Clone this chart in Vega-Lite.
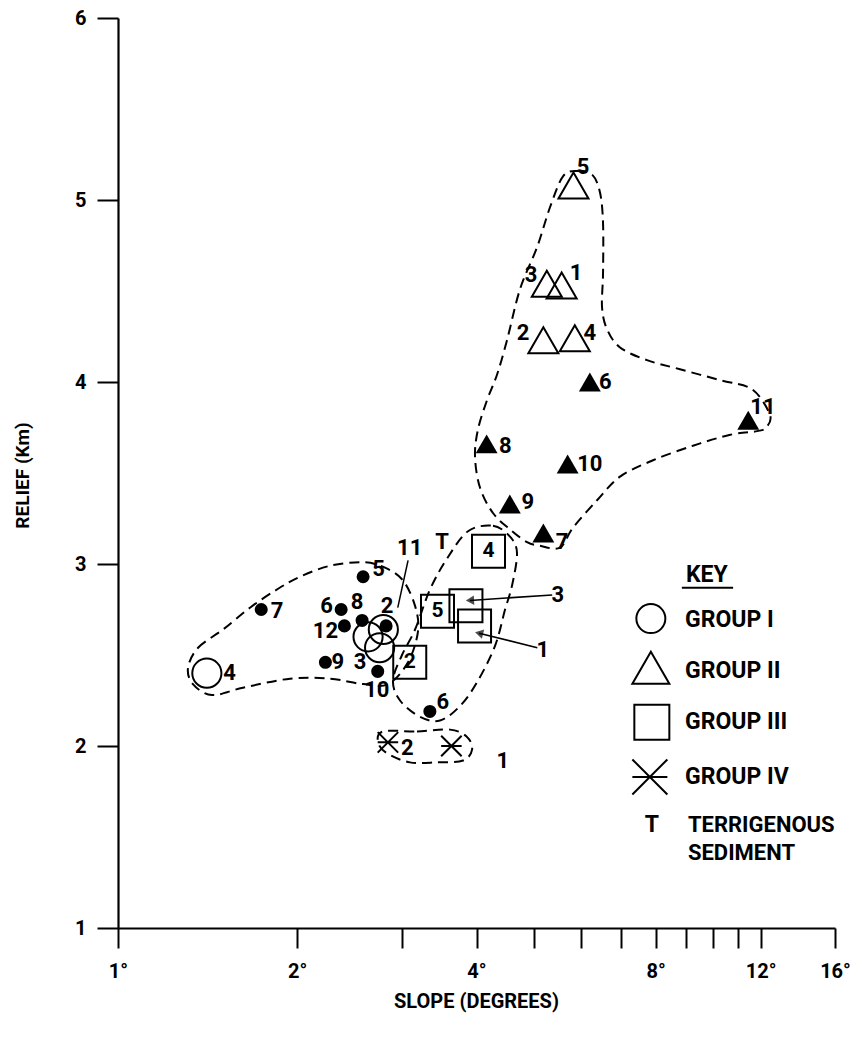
{
  "$schema": "https://vega.github.io/schema/vega-lite/v6.json",
  "autosize": {"type": "none"},
  "width": 717,
  "height": 910,
  "padding": {"left": 118, "top": 18, "right": 27, "bottom": 112},
  "background": "white",
  "config": {
    "view": {"stroke": null},
    "font": "Roboto, Liberation Sans, sans-serif",
    "text": {"font": "Roboto, Liberation Sans, sans-serif", "fontWeight": "bold", "color": "black"}
  },
  "datasets": {
    "pts": [
      {"kind": "open-circle", "label": "4", "x": 1.41, "y": 2.40},
      {"kind": "open-circle", "label": "1", "x": 2.79, "y": 2.64},
      {"kind": "open-circle", "label": "2", "x": 2.63, "y": 2.60},
      {"kind": "open-circle", "label": "3", "x": 2.75, "y": 2.54},
      {"kind": "filled-circle", "label": "7", "x": 1.74, "y": 2.75},
      {"kind": "filled-circle", "label": "5", "x": 2.58, "y": 2.93},
      {"kind": "filled-circle", "label": "6", "x": 2.37, "y": 2.75},
      {"kind": "filled-circle", "label": "8", "x": 2.57, "y": 2.69},
      {"kind": "filled-circle", "label": "12", "x": 2.40, "y": 2.66},
      {"kind": "filled-circle", "label": "2", "x": 2.82, "y": 2.66},
      {"kind": "filled-circle", "label": "9", "x": 2.23, "y": 2.46},
      {"kind": "filled-circle", "label": "10", "x": 2.73, "y": 2.41},
      {"kind": "filled-circle", "label": "6", "x": 3.34, "y": 2.19},
      {"kind": "open-triangle", "label": "5", "x": 5.82, "y": 5.08},
      {"kind": "open-triangle", "label": "3", "x": 5.25, "y": 4.54},
      {"kind": "open-triangle", "label": "1", "x": 5.56, "y": 4.53},
      {"kind": "open-triangle", "label": "2", "x": 5.18, "y": 4.23},
      {"kind": "open-triangle", "label": "4", "x": 5.85, "y": 4.24},
      {"kind": "filled-triangle", "label": "6", "x": 6.20, "y": 4.00},
      {"kind": "filled-triangle", "label": "11", "x": 11.44, "y": 3.79},
      {"kind": "filled-triangle", "label": "8", "x": 4.16, "y": 3.66},
      {"kind": "filled-triangle", "label": "10", "x": 5.69, "y": 3.55},
      {"kind": "filled-triangle", "label": "9", "x": 4.55, "y": 3.33},
      {"kind": "filled-triangle", "label": "7", "x": 5.18, "y": 3.17},
      {"kind": "square", "label": "4", "x": 4.19, "y": 3.07},
      {"kind": "square", "label": "5", "x": 3.44, "y": 2.74},
      {"kind": "square", "label": "3", "x": 3.84, "y": 2.77},
      {"kind": "square", "label": "1", "x": 3.97, "y": 2.66},
      {"kind": "square", "label": "2", "x": 3.09, "y": 2.46},
      {"kind": "cross", "label": "2", "x": 2.84, "y": 2.02},
      {"kind": "cross", "label": "1", "x": 3.63, "y": 2.00}
    ],
    "labels": [
      {"text": "5", "x": 6.04, "y": 5.18},
      {"text": "3", "x": 4.94, "y": 4.59},
      {"text": "1", "x": 5.88, "y": 4.60},
      {"text": "2", "x": 4.79, "y": 4.27},
      {"text": "4", "x": 6.20, "y": 4.27},
      {"text": "6", "x": 6.58, "y": 4.00},
      {"text": "11", "x": 12.11, "y": 3.86},
      {"text": "8", "x": 4.47, "y": 3.65},
      {"text": "10", "x": 6.20, "y": 3.55},
      {"text": "9", "x": 4.88, "y": 3.34},
      {"text": "7", "x": 5.57, "y": 3.12},
      {"text": "3", "x": 5.48, "y": 2.83},
      {"text": "1", "x": 5.17, "y": 2.53},
      {"text": "4", "x": 1.54, "y": 2.40},
      {"text": "7", "x": 1.85, "y": 2.74},
      {"text": "5", "x": 2.74, "y": 2.97},
      {"text": "6", "x": 2.24, "y": 2.77},
      {"text": "8", "x": 2.52, "y": 2.79},
      {"text": "2", "x": 2.83, "y": 2.77},
      {"text": "12", "x": 2.23, "y": 2.63},
      {"text": "9", "x": 2.34, "y": 2.46},
      {"text": "3", "x": 2.55, "y": 2.46},
      {"text": "10", "x": 2.72, "y": 2.31},
      {"text": "6", "x": 3.51, "y": 2.24},
      {"text": "11", "x": 3.09, "y": 3.09},
      {"text": "T", "x": 3.50, "y": 3.12},
      {"text": "2", "x": 3.06, "y": 1.99},
      {"text": "1", "x": 4.43, "y": 1.92}
    ],
    "leaders": [
      {"id": "sq3", "x": 5.36, "y": 2.83, "x2": 3.90, "y2": 2.80},
      {"id": "sq1", "x": 5.06, "y": 2.54, "x2": 4.04, "y2": 2.62},
      {"id": "c11", "x": 3.07, "y": 3.02, "x2": 2.95, "y2": 2.76}
    ],
    "env": [
      {"id": "I", "i": 1, "x": 1.311, "y": 2.43},
      {"id": "I", "i": 2, "x": 1.363, "y": 2.54},
      {"id": "I", "i": 3, "x": 1.501, "y": 2.64},
      {"id": "I", "i": 4, "x": 1.666, "y": 2.76},
      {"id": "I", "i": 5, "x": 1.849, "y": 2.86},
      {"id": "I", "i": 6, "x": 2.021, "y": 2.93},
      {"id": "I", "i": 7, "x": 2.270, "y": 2.99},
      {"id": "I", "i": 8, "x": 2.579, "y": 3.01},
      {"id": "I", "i": 9, "x": 2.808, "y": 2.98},
      {"id": "I", "i": 10, "x": 3.010, "y": 2.91},
      {"id": "I", "i": 11, "x": 3.154, "y": 2.77},
      {"id": "I", "i": 12, "x": 3.190, "y": 2.63},
      {"id": "I", "i": 13, "x": 3.069, "y": 2.46},
      {"id": "I", "i": 14, "x": 2.841, "y": 2.34},
      {"id": "I", "i": 15, "x": 2.579, "y": 2.34},
      {"id": "I", "i": 16, "x": 2.270, "y": 2.37},
      {"id": "I", "i": 17, "x": 1.945, "y": 2.37},
      {"id": "I", "i": 18, "x": 1.621, "y": 2.32},
      {"id": "I", "i": 19, "x": 1.438, "y": 2.28},
      {"id": "I", "i": 20, "x": 1.336, "y": 2.34},
      {"id": "III", "i": 1, "x": 3.871, "y": 3.18},
      {"id": "III", "i": 2, "x": 4.263, "y": 3.21},
      {"id": "III", "i": 3, "x": 4.554, "y": 3.15},
      {"id": "III", "i": 4, "x": 4.678, "y": 3.06},
      {"id": "III", "i": 5, "x": 4.588, "y": 2.88},
      {"id": "III", "i": 6, "x": 4.467, "y": 2.75},
      {"id": "III", "i": 7, "x": 4.297, "y": 2.55},
      {"id": "III", "i": 8, "x": 4.008, "y": 2.35},
      {"id": "III", "i": 9, "x": 3.753, "y": 2.22},
      {"id": "III", "i": 10, "x": 3.474, "y": 2.14},
      {"id": "III", "i": 11, "x": 3.215, "y": 2.16},
      {"id": "III", "i": 12, "x": 2.976, "y": 2.25},
      {"id": "III", "i": 13, "x": 2.896, "y": 2.36},
      {"id": "III", "i": 14, "x": 2.999, "y": 2.50},
      {"id": "III", "i": 15, "x": 3.154, "y": 2.64},
      {"id": "III", "i": 16, "x": 3.342, "y": 2.86},
      {"id": "III", "i": 17, "x": 3.570, "y": 3.03},
      {"id": "IV", "i": 1, "x": 2.787, "y": 2.08},
      {"id": "IV", "i": 2, "x": 3.178, "y": 2.08},
      {"id": "IV", "i": 3, "x": 3.611, "y": 2.09},
      {"id": "IV", "i": 4, "x": 3.856, "y": 2.05},
      {"id": "IV", "i": 5, "x": 3.932, "y": 1.98},
      {"id": "IV", "i": 6, "x": 3.797, "y": 1.92},
      {"id": "IV", "i": 7, "x": 3.434, "y": 1.91},
      {"id": "IV", "i": 8, "x": 3.093, "y": 1.91},
      {"id": "IV", "i": 9, "x": 2.830, "y": 1.96},
      {"id": "IV", "i": 10, "x": 2.734, "y": 2.02},
      {"id": "II", "i": 1, "x": 5.589, "y": 5.13},
      {"id": "II", "i": 2, "x": 5.900, "y": 5.16},
      {"id": "II", "i": 3, "x": 6.254, "y": 5.14},
      {"id": "II", "i": 4, "x": 6.450, "y": 5.04},
      {"id": "II", "i": 5, "x": 6.525, "y": 4.87},
      {"id": "II", "i": 6, "x": 6.525, "y": 4.60},
      {"id": "II", "i": 7, "x": 6.500, "y": 4.41},
      {"id": "II", "i": 8, "x": 6.627, "y": 4.29},
      {"id": "II", "i": 9, "x": 6.968, "y": 4.19},
      {"id": "II", "i": 10, "x": 7.734, "y": 4.12},
      {"id": "II", "i": 11, "x": 8.786, "y": 4.07},
      {"id": "II", "i": 12, "x": 10.26, "y": 4.01},
      {"id": "II", "i": 13, "x": 11.61, "y": 3.96},
      {"id": "II", "i": 14, "x": 12.44, "y": 3.82},
      {"id": "II", "i": 15, "x": 12.26, "y": 3.75},
      {"id": "II", "i": 16, "x": 11.84, "y": 3.73},
      {"id": "II", "i": 17, "x": 10.67, "y": 3.71},
      {"id": "II", "i": 18, "x": 9.239, "y": 3.65},
      {"id": "II", "i": 19, "x": 7.916, "y": 3.57},
      {"id": "II", "i": 20, "x": 6.968, "y": 3.48},
      {"id": "II", "i": 21, "x": 6.375, "y": 3.35},
      {"id": "II", "i": 22, "x": 5.810, "y": 3.20},
      {"id": "II", "i": 23, "x": 5.524, "y": 3.09},
      {"id": "II", "i": 24, "x": 5.114, "y": 3.10},
      {"id": "II", "i": 25, "x": 4.863, "y": 3.12},
      {"id": "II", "i": 26, "x": 4.554, "y": 3.19},
      {"id": "II", "i": 27, "x": 4.263, "y": 3.28},
      {"id": "II", "i": 28, "x": 4.054, "y": 3.42},
      {"id": "II", "i": 29, "x": 3.977, "y": 3.59},
      {"id": "II", "i": 30, "x": 4.023, "y": 3.74},
      {"id": "II", "i": 31, "x": 4.166, "y": 3.90},
      {"id": "II", "i": 32, "x": 4.330, "y": 4.04},
      {"id": "II", "i": 33, "x": 4.501, "y": 4.23},
      {"id": "II", "i": 34, "x": 4.733, "y": 4.51},
      {"id": "II", "i": 35, "x": 5.055, "y": 4.74},
      {"id": "II", "i": 36, "x": 5.315, "y": 4.96}
    ],
    "keyGlyphs": [
      {"kind": "open-circle", "x": 7.85, "y": 2.70},
      {"kind": "open-triangle", "x": 7.85, "y": 2.43},
      {"kind": "square", "x": 7.88, "y": 2.13},
      {"kind": "cross", "x": 7.82, "y": 1.83}
    ],
    "keyText": [
      {"text": "GROUP I", "x": 8.96, "y": 2.69},
      {"text": "GROUP II", "x": 8.96, "y": 2.41},
      {"text": "GROUP III", "x": 8.96, "y": 2.13},
      {"text": "GROUP IV", "x": 8.96, "y": 1.83}
    ],
    "keyText2": [
      {"text": "TERRIGENOUS", "x": 9.06, "y": 1.565},
      {"text": "SEDIMENT", "x": 9.06, "y": 1.41}
    ],
    "keyTitle": [
      {"text": "KEY", "x": 9.75, "y": 2.94, "x1": 8.85, "x2": 10.79, "yu": 2.87},
      {"text": "T", "x": 7.88, "y": 1.565, "x1": 7.88, "x2": 7.88, "yu": 1.565}
    ]
  },
  "encoding": {
    "x": {
      "field": "x", "type": "quantitative",
      "scale": {"type": "log", "domain": [1, 16], "nice": false},
      "axis": {
        "title": "SLOPE (DEGREES)",
        "values": [1, 2, 3, 4, 5, 6, 7, 8, 9, 10, 11, 12, 16],
        "labelExpr": "indexof([1,2,4,8,12,16], datum.value) >= 0 ? datum.value + '°' : ''",
        "grid": false, "domainColor": "black", "domainWidth": 2.2,
        "tickColor": "black", "tickWidth": 2, "tickSize": 20,
        "labelFont": "Roboto, Liberation Sans, sans-serif",
        "labelFontWeight": "bold", "labelFontSize": 20, "labelColor": "black",
        "labelPadding": 13, "labelFlush": false, "labelOverlap": false,
        "titleFont": "Roboto, Liberation Sans, sans-serif",
        "titleFontWeight": "bold", "titleFontSize": 20, "titleColor": "black",
        "titleX": 358, "titleY": 73, "titleBaseline": "middle", "titleAlign": "center"
      }
    },
    "y": {
      "field": "y", "type": "quantitative",
      "scale": {"domain": [1, 6], "nice": false, "zero": false},
      "axis": {
        "title": "RELIEF (Km)",
        "values": [1, 2, 3, 4, 5, 6],
        "grid": false, "domainColor": "black", "domainWidth": 2.2,
        "tickColor": "black", "tickWidth": 2, "tickSize": 21,
        "labelFont": "Roboto, Liberation Sans, sans-serif",
        "labelFontWeight": "bold", "labelFontSize": 20, "labelColor": "black",
        "labelPadding": 11, "labelFlush": false, "labelOverlap": false,
        "titleFont": "Roboto, Liberation Sans, sans-serif",
        "titleFontWeight": "bold", "titleFontSize": 19, "titleColor": "black",
        "titleX": -96, "titleY": 457, "titleAngle": -90, "titleBaseline": "middle", "titleAlign": "center"
      }
    }
  },
  "layer": [
    {
      "data": {"name": "env"},
      "mark": {"type": "line", "interpolate": "cardinal-closed", "color": "black", "strokeWidth": 2, "strokeDash": [10, 6]},
      "encoding": {"detail": {"field": "id"}, "order": {"field": "i", "type": "quantitative"}}
    },
    {
      "data": {"name": "leaders"},
      "mark": {"type": "rule", "color": "black", "strokeWidth": 1.5},
      "encoding": {"x2": {"field": "x2"}, "y2": {"field": "y2"}}
    },
    {
      "data": {"name": "leaders"},
      "transform": [{"filter": "datum.id == 'sq3'"}],
      "mark": {"type": "point", "shape": "triangle-left", "filled": true, "color": "black", "size": 90, "angle": 357},
      "encoding": {"x": {"field": "x2", "type": "quantitative"}, "y": {"field": "y2", "type": "quantitative"}}
    },
    {
      "data": {"name": "leaders"},
      "transform": [{"filter": "datum.id == 'sq1'"}],
      "mark": {"type": "point", "shape": "triangle-left", "filled": true, "color": "black", "size": 90, "angle": 14},
      "encoding": {"x": {"field": "x2", "type": "quantitative"}, "y": {"field": "y2", "type": "quantitative"}}
    },
    {
      "data": {"name": "pts"},
      "transform": [{"filter": "datum.kind == 'open-circle'"}],
      "mark": {"type": "point", "shape": "circle", "filled": false, "color": "black", "strokeWidth": 2, "size": 850, "opacity": 1}
    },
    {
      "data": {"name": "pts"},
      "transform": [{"filter": "datum.kind == 'filled-circle'"}],
      "mark": {"type": "point", "shape": "circle", "filled": true, "color": "black", "size": 170, "opacity": 1}
    },
    {
      "data": {"name": "pts"},
      "transform": [{"filter": "datum.kind == 'open-triangle'"}],
      "mark": {"type": "point", "shape": "triangle-up", "filled": false, "color": "black", "strokeWidth": 2, "size": 900, "opacity": 1}
    },
    {
      "data": {"name": "pts"},
      "transform": [{"filter": "datum.kind == 'filled-triangle'"}],
      "mark": {"type": "point", "shape": "triangle-up", "filled": true, "color": "black", "size": 480, "opacity": 1}
    },
    {
      "data": {"name": "pts"},
      "transform": [{"filter": "datum.kind == 'square'"}],
      "mark": {"type": "point", "shape": "square", "filled": false, "color": "black", "strokeWidth": 2, "size": 1089, "opacity": 1}
    },
    {
      "data": {"name": "pts"},
      "transform": [{"filter": "datum.kind == 'square' && datum.label != '1' && datum.label != '3'"}],
      "mark": {"type": "text", "fontSize": 21, "align": "center", "baseline": "middle"},
      "encoding": {"text": {"field": "label"}}
    },
    {
      "data": {"name": "pts"},
      "transform": [{"filter": "datum.kind == 'cross'"}],
      "mark": {"type": "point", "shape": "M-1,-1L1,1M-1,1L1,-1M-1,0L1,0", "filled": false, "color": "black", "strokeWidth": 2, "size": 420, "opacity": 1}
    },
    {
      "data": {"name": "labels"},
      "mark": {"type": "text", "fontSize": 22, "align": "center", "baseline": "middle"},
      "encoding": {"text": {"field": "text"}}
    },
    {
      "data": {"name": "keyGlyphs"},
      "transform": [{"filter": "datum.kind == 'open-circle'"}],
      "mark": {"type": "point", "shape": "circle", "filled": false, "color": "black", "strokeWidth": 2, "size": 841, "opacity": 1}
    },
    {
      "data": {"name": "keyGlyphs"},
      "transform": [{"filter": "datum.kind == 'open-triangle'"}],
      "mark": {"type": "point", "shape": "triangle-up", "filled": false, "color": "black", "strokeWidth": 2, "size": 1369, "opacity": 1}
    },
    {
      "data": {"name": "keyGlyphs"},
      "transform": [{"filter": "datum.kind == 'square'"}],
      "mark": {"type": "point", "shape": "square", "filled": false, "color": "black", "strokeWidth": 2, "size": 1225, "opacity": 1}
    },
    {
      "data": {"name": "keyGlyphs"},
      "transform": [{"filter": "datum.kind == 'cross'"}],
      "mark": {"type": "point", "shape": "M-1,-1L1,1M-1,1L1,-1M-1,0L1,0", "filled": false, "color": "black", "strokeWidth": 2, "size": 1225, "opacity": 1}
    },
    {
      "data": {"name": "keyText"},
      "mark": {"type": "text", "fontSize": 23, "align": "left", "baseline": "middle"},
      "encoding": {"text": {"field": "text"}}
    },
    {
      "data": {"name": "keyText2"},
      "mark": {"type": "text", "fontSize": 22, "align": "left", "baseline": "middle"},
      "encoding": {"text": {"field": "text"}}
    },
    {
      "data": {"name": "keyTitle"},
      "mark": {"type": "text", "fontSize": 23, "align": "center", "baseline": "middle"},
      "encoding": {"text": {"field": "text"}}
    },
    {
      "data": {"name": "keyTitle"},
      "transform": [{"filter": "datum.text == 'KEY'"}],
      "mark": {"type": "rule", "color": "black", "strokeWidth": 2},
      "encoding": {"x": {"field": "x1", "type": "quantitative"}, "x2": {"field": "x2"}, "y": {"field": "yu", "type": "quantitative"}}
    }
  ]
}
